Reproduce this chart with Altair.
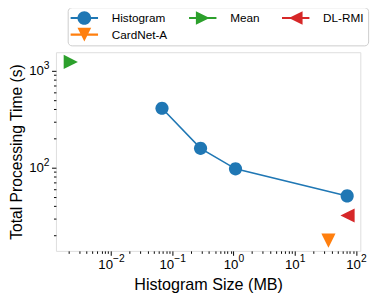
import altair as alt
import pandas as pd

# ---- data ----
series_names = ["Histogram", "DL-RMI", "Mean", "CardNet-A"]
series_colors = ["#1f77b4", "#d62728", "#2ca02c", "#ff7f0e"]

hist_size_mb = [0.068, 0.29, 1.08, 72.0]
hist_time_s = [410, 158, 97, 51]
mean_size_mb = [0.0022]
mean_time_s = [1230]
dlrmi_size_mb = [73.0]
dlrmi_time_s = [32]
cardnet_size_mb = [35.6]
cardnet_time_s = [17.6]

x_domain = [0.00126, 118]
y_domain = [13.8, 1550]
x_major = [0.01, 0.1, 1, 10, 100]
x_exponents = ["−2", "−1", "0", "1", "2"]
y_major = [100, 1000]
y_exponents = ["2", "3"]
x_minor = [m * 10.0 ** e for e in range(-3, 2) for m in range(2, 10)]
y_minor = [m * 10.0 ** e for e in range(1, 3) for m in range(2, 10)]

# ---- marker shapes ----
CIRCLE = "M-1,0A1,1,0,1,1,1,0A1,1,0,1,1,-1,0Z"
TRI_R = "M-1,-1L1,0L-1,1Z"
TRI_L = "M1,-1L1,1L-1,0Z"
TRI_D = "M-1,-1L1,-1L0,1Z"
BAR = "M-2,-0.15L2,-0.15L2,0.15L-2,0.15Z"
shape_of = {"Histogram": CIRCLE, "Mean": TRI_R, "DL-RMI": TRI_L, "CardNet-A": TRI_D}
legend_shapes = [shape_of[n] + BAR for n in series_names]

FONT = "Liberation Sans, Arial, DejaVu Sans"


def label_expr(vals, labels):
    expr = "''"
    for v, l in reversed(list(zip(vals, labels))):
        expr = f"datum.value == {v} ? '{l}' : ({expr})"
    return expr


def tick_size(vals):
    return {"condition": {"test": f"indexof({vals}, datum.value) >= 0", "value": 4.5}, "value": 2.5}


xs = alt.Scale(type="log", domain=x_domain, nice=False)
ys = alt.Scale(type="log", domain=y_domain, nice=False)

# main axes: ticks, the "10" part of each label, titles
x_axis = alt.Axis(
    orient="bottom",
    values=[v for v in x_minor if x_domain[0] <= v <= x_domain[1]] + x_major,
    labelExpr=label_expr(x_major, ["10"] * len(x_major)),
    tickSize=tick_size(x_major),
    labelOffset={"condition": {"test": "datum.value < 1", "value": -6}, "value": -2.9},
    labelOverlap=False, labelFlush=False, grid=False, domain=False,
    labelFontSize=13.5, labelPadding=2, tickColor="black", labelColor="black",
    title="Histogram Size (MB)", titleFontSize=16.5, titleFontWeight="normal",
    titleY=39, titleBaseline="alphabetic", titleColor="black",
)
y_axis = alt.Axis(
    orient="left",
    values=[v for v in y_minor if y_domain[0] <= v <= y_domain[1]] + y_major,
    labelExpr=label_expr(y_major, ["10"] * len(y_major)),
    tickSize=tick_size(y_major),
    labelOverlap=False, labelFlush=False, grid=False, domain=False,
    labelFontSize=13.5, labelPadding=8.3, tickColor="black", labelColor="black",
    title="Total Processing Time (s)", titleFontSize=16, titleFontWeight="normal",
    titleX=-35, titleY=101.5, titleBaseline="alphabetic", titleAngle=-90, titleColor="black",
)
# exponent axes: superscripts only
x_exp_axis = alt.Axis(
    orient="bottom", values=x_major, labelExpr=label_expr(x_major, x_exponents),
    ticks=False, domain=False, grid=False, title=None, labelOverlap=False, labelFlush=False,
    labelFontSize=10.5, labelPadding=3, labelOffset=7.6, labelColor="black",
)
y_exp_axis = alt.Axis(
    orient="left", values=y_major, labelExpr=label_expr(y_major, y_exponents),
    ticks=False, domain=False, grid=False, title=None, labelOverlap=False, labelFlush=False,
    labelFontSize=10.5, labelPadding=7, labelOffset=-5, labelColor="black",
)

hist_df = pd.DataFrame({"size": hist_size_mb, "time": hist_time_s})

line = alt.Chart(hist_df).mark_line(color="#1f77b4", strokeWidth=1.6).encode(
    x=alt.X("size:Q", scale=xs, axis=x_axis),
    y=alt.Y("time:Q", scale=ys, axis=y_axis),
)

point_series = [
    ("Histogram", "#1f77b4", CIRCLE, 180, hist_size_mb, hist_time_s),
    ("Mean", "#2ca02c", TRI_R, 210, mean_size_mb, mean_time_s),
    ("DL-RMI", "#d62728", TRI_L, 210, dlrmi_size_mb, dlrmi_time_s),
    ("CardNet-A", "#ff7f0e", TRI_D, 210, cardnet_size_mb, cardnet_time_s),
]

layers = [line]
frames = []
for i, (name, color, shape, sz, xv, yv) in enumerate(point_series):
    df = pd.DataFrame({"size": xv, "time": yv, "series": name})
    frames.append(df)
    xa = x_exp_axis if i == 0 else None
    ya = y_exp_axis if i == 0 else None
    layers.append(
        alt.Chart(df).mark_point(filled=True, shape=shape, size=sz, color=color, opacity=1).encode(
            x=alt.X("size:Q", scale=xs, axis=xa), y=alt.Y("time:Q", scale=ys, axis=ya)
        )
    )

legend = alt.Legend(
    title=None, orient="none", legendX=12, legendY=-46, columns=3, values=series_names,
    symbolSize=196, symbolOffset=6, labelOffset=21, columnPadding=22, rowPadding=3,
    padding=4, strokeColor="#cccccc", fillColor="white", cornerRadius=4,
    labelFontSize=12, labelFont=FONT, labelColor="black", symbolStrokeWidth=0,
    symbolOpacity=1,
)
all_df = pd.concat(frames, ignore_index=True)
# this layer only feeds the legend; its marks are pushed out of the clipped plot area
leg_layer = alt.Chart(all_df).mark_point(filled=True, clip=True, xOffset=5000, opacity=1).encode(
    x=alt.X("size:Q", scale=xs, axis=None),
    y=alt.Y("time:Q", scale=ys, axis=None),
    color=alt.Color("series:N", scale=alt.Scale(domain=series_names, range=series_colors), legend=legend),
    shape=alt.Shape("series:N", scale=alt.Scale(domain=series_names, range=legend_shapes), legend=legend),
)
layers.append(leg_layer)

chart = alt.layer(*layers).resolve_axis(x="independent", y="independent").properties(
    width=311, height=203,
    padding={"left": 49, "top": 42, "right": 14, "bottom": 48},
    autosize=alt.AutoSizeParams(type="none"),
).configure_view(stroke="black", strokeWidth=1).configure_axis(
    labelFont=FONT, titleFont=FONT
).configure(background="white")

chart.save("out.html", embed_options={"renderer": "svg", "actions": False})
